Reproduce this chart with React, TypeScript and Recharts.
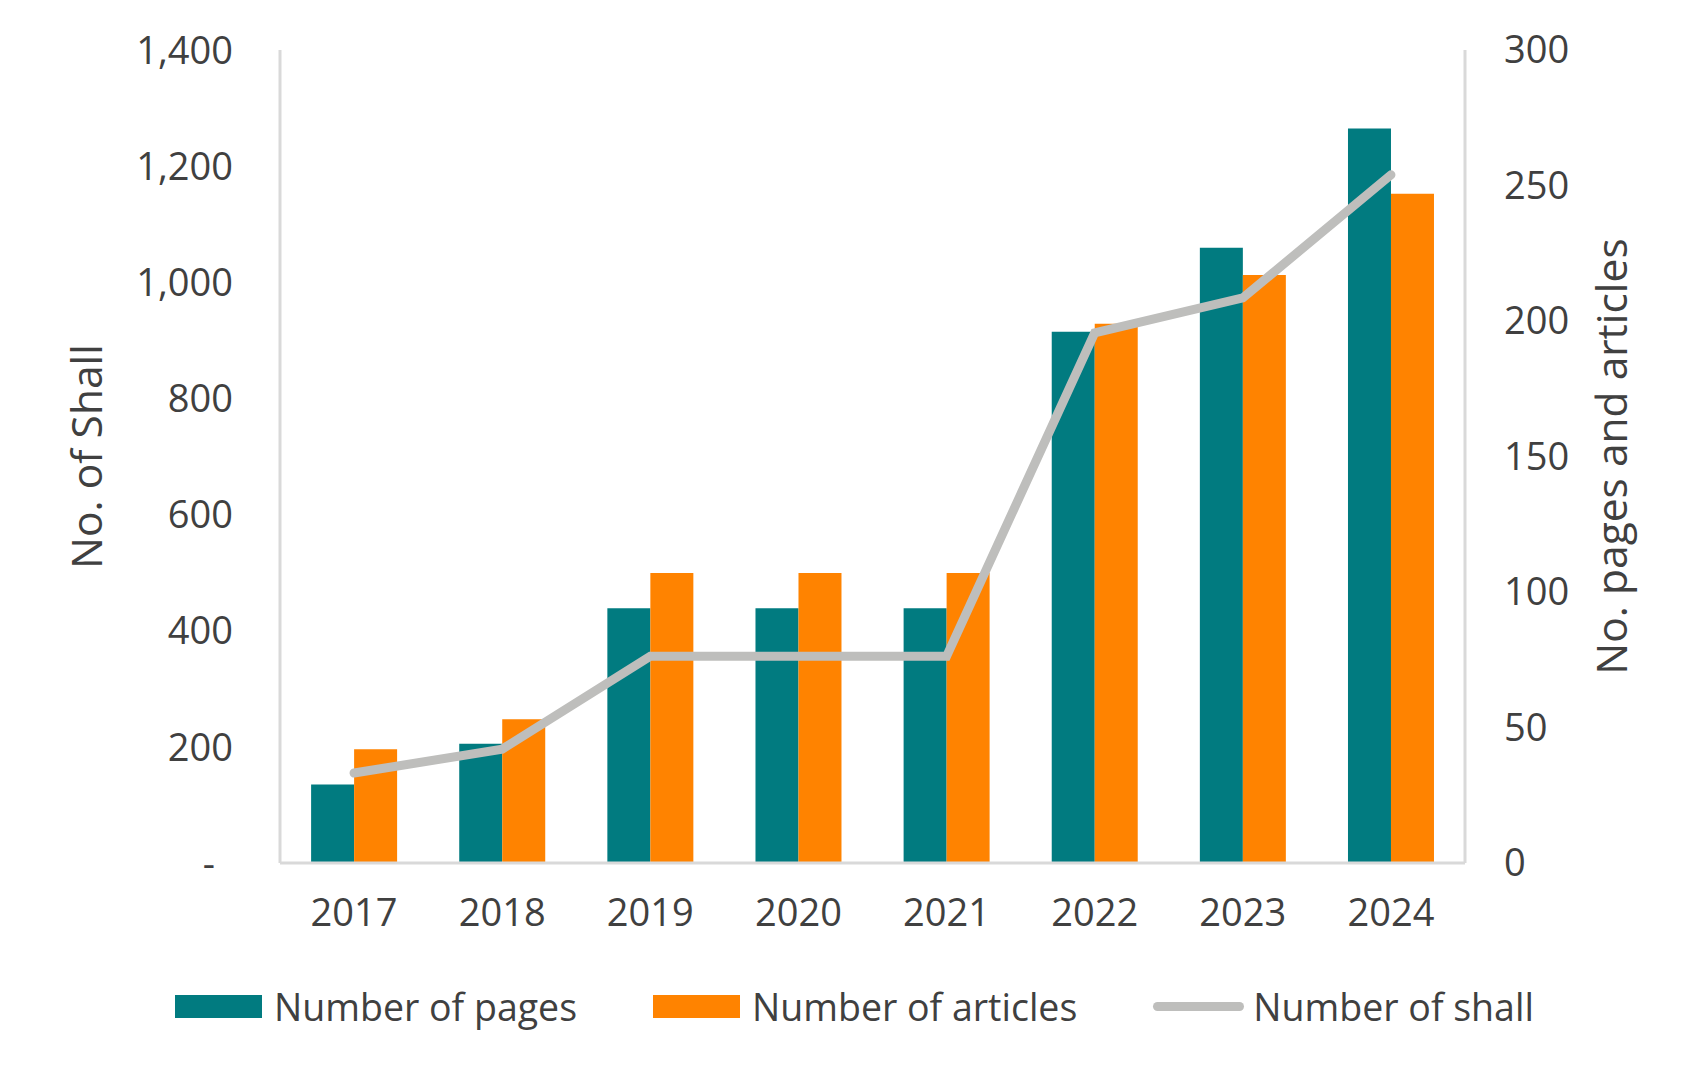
import React from 'react';
import { ComposedChart, Bar, Line, XAxis, YAxis } from 'recharts';

const years = ['2017', '2018', '2019', '2020', '2021', '2022', '2023', '2024'];
const pages = [29, 44, 94, 94, 94, 196, 227, 271];
const articles = [42, 53, 107, 107, 107, 199, 217, 247];
const shall = [155, 196, 356, 356, 356, 913, 973, 1185];

const leftTicks = [0, 200, 400, 600, 800, 1000, 1200, 1400];
const rightTicks = [0, 50, 100, 150, 200, 250, 300];

const TEAL = '#017B80';
const ORANGE = '#FF8300';
const GREY = '#BEBEBC';
const AXIS = '#D9D9D9';
const TEXT = '#404040';
const FONT = '"Open Sans", sans-serif';
const TICK_SIZE = 38;

const data = years.map((year, i) => ({
  year,
  pages: pages[i],
  articles: articles[i],
  shall: shall[i],
}));

const LeftTick = ({ x, y, payload }: any) => {
  const zero = payload.value === 0;
  return (
    <text
      x={zero ? x - 18 : x}
      y={y}
      dy="0.36em"
      textAnchor="end"
      fill={TEXT}
      fontSize={TICK_SIZE}
      fontFamily={FONT}
    >
      {zero ? '-' : payload.value.toLocaleString('en-US')}
    </text>
  );
};

const axisTitle = (text: string, cx: number) => ({ viewBox }: any) => {
  const cy = viewBox.y + viewBox.height / 2;
  return (
    <text
      x={cx}
      y={cy}
      transform={`rotate(-90 ${cx} ${cy})`}
      textAnchor="middle"
      dominantBaseline="central"
      fill={TEXT}
      fontSize={42.5}
      fontFamily={FONT}
    >
      {text}
    </text>
  );
};

const legendItems = [
  { name: 'Number of pages', color: TEAL, type: 'rect' },
  { name: 'Number of articles', color: ORANGE, type: 'rect' },
  { name: 'Number of shall', color: GREY, type: 'line' },
];

export default function App() {
  return (
    <div style={{ position: 'absolute', left: 0, top: 0, width: 1697, height: 1074, background: '#fff' }}>
      <ComposedChart
        width={1697}
        height={1074}
        data={data}
        margin={{ top: 50, right: 0, left: 0, bottom: 151 }}
        barCategoryGap="21%"
        barGap={0}
      >
        <XAxis
          dataKey="year"
          height={60}
          axisLine={{ stroke: AXIS, strokeWidth: 3 }}
          tickLine={false}
          tickSize={0}
          tickMargin={36}
          tick={{ fill: TEXT, fontSize: TICK_SIZE, fontFamily: FONT }}
        />
        <YAxis
          yAxisId="left"
          orientation="left"
          width={280}
          domain={[0, 1400]}
          ticks={leftTicks}
          interval={0}
          axisLine={{ stroke: AXIS, strokeWidth: 3 }}
          tickLine={false}
          tickSize={0}
          tickMargin={47}
          tick={<LeftTick />}
          label={{ content: axisTitle('No. of Shall', 85) }}
        />
        <YAxis
          yAxisId="right"
          orientation="right"
          width={232}
          domain={[0, 300]}
          ticks={rightTicks}
          interval={0}
          axisLine={{ stroke: AXIS, strokeWidth: 3 }}
          tickLine={false}
          tickSize={0}
          tickMargin={39}
          tick={{ fill: TEXT, fontSize: TICK_SIZE, fontFamily: FONT, textAnchor: 'start' }}
          label={{ content: axisTitle('No. pages and articles', 1610) }}
        />
        <Bar yAxisId="right" dataKey="pages" name="Number of pages" fill={TEAL} isAnimationActive={false} />
        <Bar yAxisId="right" dataKey="articles" name="Number of articles" fill={ORANGE} isAnimationActive={false} />
        <Line
          yAxisId="left"
          type="linear"
          dataKey="shall"
          name="Number of shall"
          stroke={GREY}
          strokeWidth={9}
          strokeLinecap="round"
          dot={false}
          activeDot={false}
          isAnimationActive={false}
        />
      </ComposedChart>
      <div
        style={{
          position: 'absolute',
          left: 175,
          top: 983,
          height: 46,
          display: 'flex',
          alignItems: 'center',
          gap: 76,
          fontFamily: FONT,
          fontSize: 37.5,
          color: TEXT,
          whiteSpace: 'nowrap',
        }}
      >
        {legendItems.map((item) => (
          <div
            key={item.name}
            style={{ display: 'flex', alignItems: 'center', gap: item.type === 'rect' ? 12 : 9 }}
          >
            {item.type === 'rect' ? (
              <div style={{ width: 87, height: 23, background: item.color }} />
            ) : (
              <div style={{ width: 91, height: 9, borderRadius: 5, background: item.color }} />
            )}
            <span>{item.name}</span>
          </div>
        ))}
      </div>
    </div>
  );
}
